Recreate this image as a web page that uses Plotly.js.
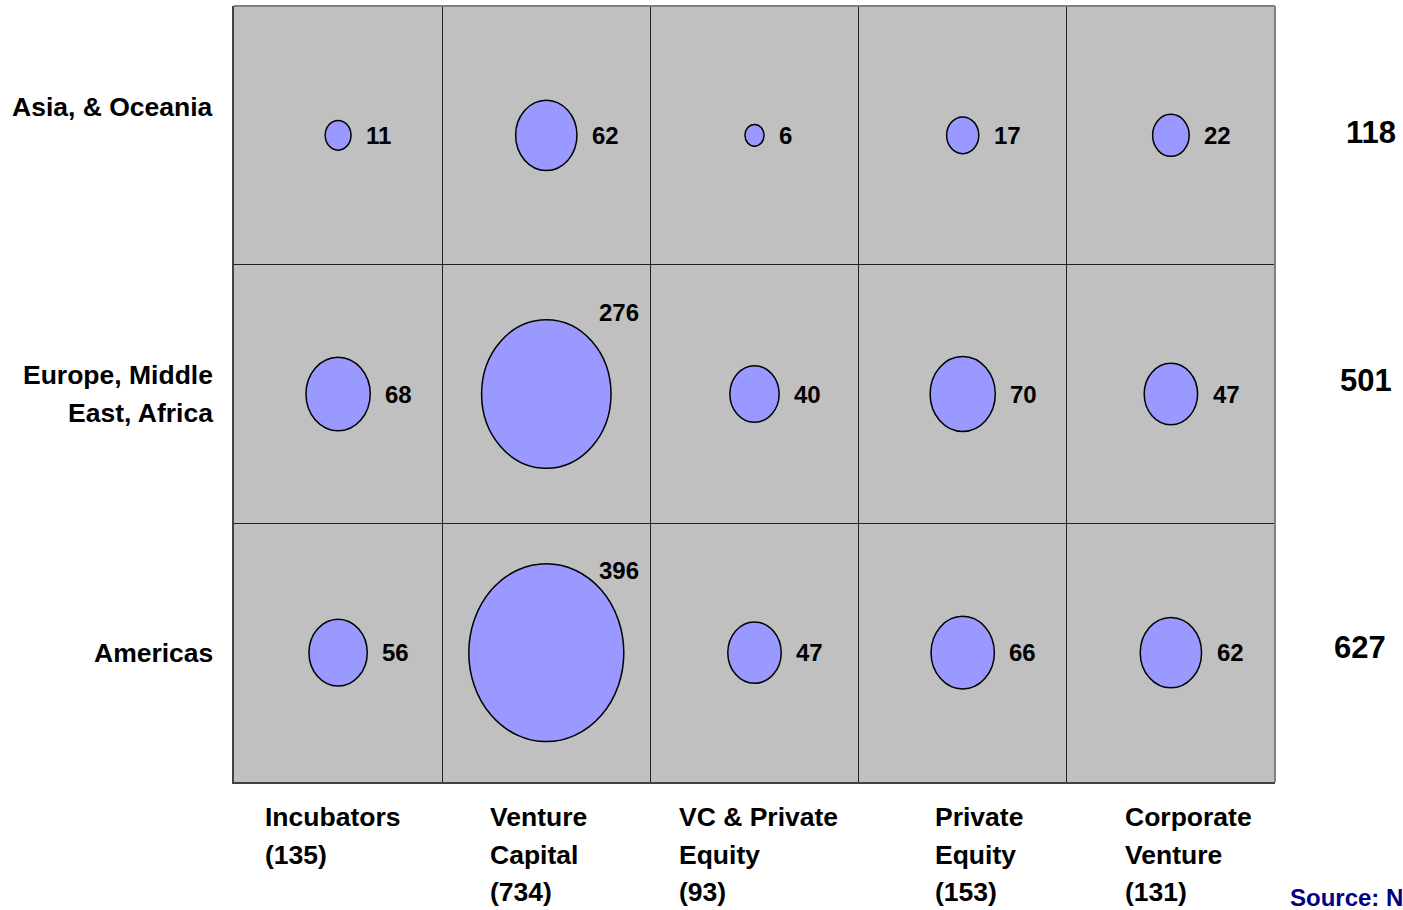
<!DOCTYPE html>
<html>
<head>
<meta charset="utf-8">
<script src="https://cdn.plot.ly/plotly-3.0.1.min.js"></script>
<style>html,body{margin:0;padding:0;background:#fff;overflow:hidden}#chart{width:1403px;height:910px}</style>
</head>
<body>
<div id="chart"></div>
<script>
// ---- data ----
const regions = ["Asia, & Oceania", "Europe, Middle<br>East, Africa", "Americas"];
const investorTypes = ["Incubators", "Venture<br>Capital", "VC & Private<br>Equity", "Private<br>Equity", "Corporate<br>Venture"];
const typeTotals = [135, 734, 93, 153, 131];
const regionTotals = [118, 501, 627];
const asiaOceania = [11, 62, 6, 17, 22];
const europeMEA = [68, 276, 40, 70, 47];
const americas = [56, 396, 47, 66, 62];
const source = "Source: N";

// ---- layout constants ----
const W = 1403, H = 910;
const M = {l: 234, r: 128, t: 6, b: 128};
const plotW = W - M.l - M.r, plotH = H - M.t - M.b;
const pxPerX = plotW / 5, pxPerY = plotH / 3;
const kW = 7.79, kH = 8.94; // bubble diameter px per sqrt(value)
const FONT = "'Liberation Sans', Arial, Helvetica, sans-serif";
const rows = [asiaOceania, europeMEA, americas];
const rowY = [2, 1, 0];
const rowLabelShift = [28, 0, 0];
const totalShiftY = [3, 14, 5];
const totalShiftX = [96, 91, 85];
const colLabelShift = [-6, -8, 4, 16, 18];
const sized = (t, px) => '<span style="font-size:' + px + 'px">' + t + '</span>';

const shapes = [];
const annotations = [];
const cx = [], cy = [];

rows.forEach((vals, r) => {
  vals.forEach((v, c) => {
    const y = rowY[r];
    const rxPx = kW * Math.sqrt(v) / 2, ryPx = kH * Math.sqrt(v) / 2;
    const rx = rxPx / pxPerX, ry = ryPx / pxPerY;
    cx.push(c); cy.push(y);
    shapes.push({type: 'circle', xref: 'x', yref: 'y', x0: c - rx, x1: c + rx, y0: y - ry, y1: y + ry,
      fillcolor: '#9999ff', line: {color: '#000000', width: 1.5}, layer: 'above'});
    const big = v > 200;
    annotations.push({x: c, y: y, xref: 'x', yref: 'y', text: String(v), showarrow: false,
      xanchor: 'left', yanchor: 'middle',
      xshift: big ? 51 : rxPx + 13, yshift: big ? 82 : 0,
      font: {family: FONT, size: 24, color: '#000', weight: 700}});
  });
});

// row labels
regions.forEach((t, r) => {
  annotations.push({x: 0, xref: 'paper', y: rowY[r], yref: 'y',
    text: t.split('<br>').map(s => sized(s, 26.5)).join('<br>'), showarrow: false,
    xanchor: 'right', yanchor: 'middle', align: 'right', xshift: -19, yshift: rowLabelShift[r],
    font: {family: FONT, size: 29, color: '#000', weight: 700}});
});
// row totals
regionTotals.forEach((t, r) => {
  annotations.push({x: 1, xref: 'paper', y: rowY[r], yref: 'y', text: String(t), showarrow: false,
    xanchor: 'center', yanchor: 'middle', xshift: totalShiftX[r], yshift: totalShiftY[r],
    font: {family: FONT, size: 31, color: '#000', weight: 700}});
});
// column labels
investorTypes.forEach((t, c) => {
  const lines = (t + '<br>(' + typeTotals[c] + ')').split('<br>').map(s => sized(s, 26.5)).join('<br>');
  annotations.push({x: c, xref: 'x', y: 0, yref: 'paper', text: lines, showarrow: false,
    xanchor: 'center', yanchor: 'top', align: 'left', xshift: colLabelShift[c], yshift: -18,
    font: {family: FONT, size: 29, color: '#000', weight: 700}});
});
// source
annotations.push({x: 1, xref: 'paper', y: 0, yref: 'paper', text: source, showarrow: false,
  xanchor: 'left', yanchor: 'middle', xshift: 13, yshift: -115,
  font: {family: FONT, size: 24, color: '#000080', weight: 700}});

// plot border: top/right light, left/bottom dark
shapes.push({type: 'line', xref: 'paper', yref: 'paper', x0: 0, x1: 1, y0: 1, y1: 1, line: {color: '#808080', width: 2}, layer: 'above'});
shapes.push({type: 'line', xref: 'paper', yref: 'paper', x0: 1, x1: 1, y0: 0, y1: 1, line: {color: '#808080', width: 2}, layer: 'above'});

const trace = {x: cx, y: cy, type: 'scatter', mode: 'markers', marker: {size: 1, opacity: 0}, hoverinfo: 'skip', showlegend: false};

const layout = {
  width: W, height: H, margin: M,
  paper_bgcolor: '#ffffff', plot_bgcolor: '#c0c0c0',
  showlegend: false,
  xaxis: {range: [-0.5, 4.5], tickvals: [0.5, 1.5, 2.5, 3.5], showticklabels: false, ticks: '',
    showgrid: true, gridcolor: '#202020', gridwidth: 1, zeroline: false,
    showline: true, linecolor: '#404040', linewidth: 2, fixedrange: true},
  yaxis: {range: [-0.5, 2.5], tickvals: [0.5, 1.5], showticklabels: false, ticks: '',
    showgrid: true, gridcolor: '#202020', gridwidth: 1, zeroline: false,
    showline: true, linecolor: '#404040', linewidth: 2, fixedrange: true},
  shapes: shapes,
  annotations: annotations
};

Plotly.newPlot('chart', [trace], layout, {staticPlot: true, displayModeBar: false});
</script>
</body>
</html>
